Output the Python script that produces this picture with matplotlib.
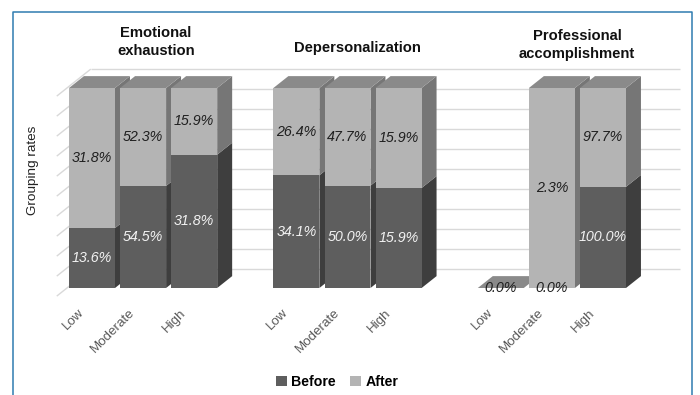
import matplotlib
matplotlib.use("Agg")
import matplotlib.pyplot as plt
from matplotlib.patches import Polygon, Patch
from matplotlib.lines import Line2D

# data: percentages per burnout dimension, ordered Low / Moderate / High
groups = ["Emotional\nexhaustion", "Depersonalization", "Professional\naccomplishment"]
levels = ["Low", "Moderate", "High"]
before = [[13.6, 54.5, 31.8], [34.1, 50.0, 15.9], [0.0, 0.0, 100.0]]
after = [[31.8, 52.3, 15.9], [26.4, 47.7, 15.9], [0.0, 2.3, 97.7]]
series = ["Before", "After"]

# face colours (front, side) per series, plus shared top face
BEFORE_FRONT, BEFORE_SIDE = "#5e5e5e", "#3e3e3e"
AFTER_FRONT, AFTER_SIDE = "#b4b4b4", "#767676"
TOP = "#8a8a8a"
GRID = "#d9d9d9"

# oblique depth: full wall depth in data units, bar front/back depth
DEPTH_X, DEPTH_Y = 34 / 51.1, 27 / 200
Z0, Z1 = 0.3, 0.74
XL, XR = -0.49, 11.04
W = 0.9


def proj(x, v, z):
    return (x + (z - Z0) * DEPTH_X, v + (z - Z0) * DEPTH_Y)


def face(ax, pts, color):
    ax.add_patch(Polygon(pts, closed=True, facecolor=color, edgecolor="none", lw=0))


fig = plt.figure(figsize=(7, 3.95), dpi=100)
ax = fig.add_axes([0, 0, 1, 1])
ax.set_xlim(-92 / 51.1, (700 - 92) / 51.1)
ax.set_ylim(-107 / 200, 288 / 200)
ax.axis("off")

# walls: back wall gridlines and the left wall slants
for i in range(11):
    lv = i / 10
    (a, b), (c, d) = proj(XL, lv, 1), proj(XR, lv, 1)
    ax.plot([a, c], [b, d], color=GRID, lw=1.0, zorder=1, solid_capstyle="butt")
    (a, b), (c, d) = proj(XL, lv, 0), proj(XL, lv, 1)
    ax.plot([a, c], [b, d], color=GRID, lw=1.0, zorder=1, solid_capstyle="butt")

label_font = dict(family="Liberation Sans", style="italic", fontsize=10.3)

for g, name in enumerate(groups):
    for k, lvl in enumerate(levels):
        s = g * 4 + k
        x0, x1 = s - W / 2, s + W / 2
        b, a = before[g][k], after[g][k]
        total = b + a
        fb = b / total if total else 0.0
        top = 1.0 if total else 0.0
        segs = [(0.0, fb, BEFORE_FRONT, BEFORE_SIDE), (fb, top, AFTER_FRONT, AFTER_SIDE)]
        for v0, v1, cf, cs in segs:
            if v1 <= v0:
                continue
            face(ax, [(x1, v0), (x1, v1), proj(x1, v1, Z1), proj(x1, v0, Z1)], cs)
            face(ax, [(x0, v0), (x1, v0), (x1, v1), (x0, v1)], cf)
        face(ax, [(x0, top), (x1, top), proj(x1, top, Z1), proj(x0, top, Z1)], TOP)

        # value labels
        ax.text(s, fb / 2, f"{b:.1f}%", ha="center", va="center", zorder=5,
                color="#f2f2f2" if b else "#1f1f1f", **label_font)
        if a or b:
            ax.text(s, (fb + top) / 2, f"{a:.1f}%", ha="center", va="center",
                    zorder=5, color="#1f1f1f", **label_font)

        ax.text(s - 0.11, -0.093, lvl, rotation=45, ha="right", va="top",
                family="Liberation Sans", fontsize=9.6, color="#595959")

# group titles
title_pos = [(156, 42), (357, 48), (577, 45)]
for name, (px, py) in zip(groups, title_pos):
    fig.text(px / 700, 1 - py / 395, name, ha="center", va="center",
             family="Liberation Sans", weight="bold", fontsize=10.6,
             linespacing=1.35, color="#111111")

fig.text(33 / 700, 1 - 170 / 395, "Grouping rates", rotation=90, ha="center",
         va="center", family="Liberation Sans", fontsize=9.7, color="#222222")

handles = [Patch(facecolor=BEFORE_FRONT), Patch(facecolor=AFTER_FRONT)]
fig.legend(handles, series, loc="center", bbox_to_anchor=(337 / 700, 1 - 382 / 395),
           ncol=2, frameon=False, handlelength=0.8, handleheight=0.8,
           handletextpad=0.3, columnspacing=1.0,
           prop=dict(family="Liberation Sans", weight="bold", size=10.2))

# outer frame, open at the bottom
fig.add_artist(Line2D([13 / 700, 13 / 700, 692 / 700, 692 / 700],
                      [-0.1, 1 - 12 / 395, 1 - 12 / 395, -0.1],
                      transform=fig.transFigure, color="#2f7cb0", lw=1.1))

fig.savefig("out.png", dpi=100)
